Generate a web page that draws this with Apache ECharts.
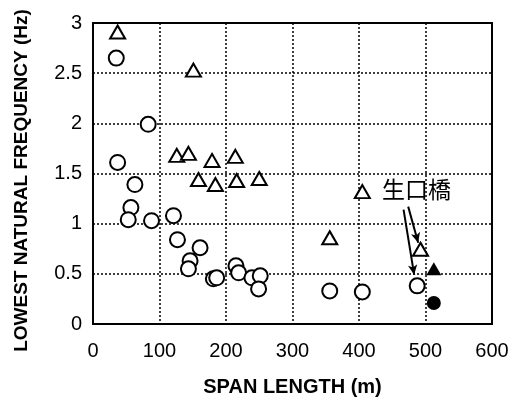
<!DOCTYPE html>
<html lang="en">
  <head>
    <meta charset="UTF-8" />
    <title>Span length vs lowest natural frequency</title>
    <script src="https://cdn.jsdelivr.net/npm/echarts@6/dist/echarts.min.js"></script>
    <style>
      html, body { margin: 0; padding: 0; background: #fff; }
      #box { width: 514px; height: 402px; }
    </style>
  </head>
  <body>
    <div id="box"></div>
    <script>
      // open circles
      var circleSpan = [35, 37, 63, 57, 53, 83, 88, 121, 127, 161, 146, 143.5, 181, 186, 215, 219, 239, 251.5, 249, 356, 405, 487.5];
      var circleFreq = [2.65, 1.61, 1.39, 1.16, 1.04, 1.99, 1.03, 1.08, 0.84, 0.76, 0.63, 0.55, 0.45, 0.46, 0.58, 0.51, 0.46, 0.48, 0.35, 0.33, 0.32, 0.38];
      // open triangles
      var triSpan = [37, 151, 126, 143.5, 179, 214, 158.6, 184, 216, 250, 405, 356, 492.5];
      var triFreq = [2.91, 2.53, 1.68, 1.70, 1.63, 1.67, 1.44, 1.39, 1.43, 1.45, 1.32, 0.86, 0.745];
      // filled marks (生口橋)
      var fillTriSpan = [512.5];
      var fillTriFreq = [0.55];
      var fillCircleSpan = [512.5];
      var fillCircleFreq = [0.21];

      var xTicks = [0, 100, 200, 300, 400, 500, 600];
      var yTicks = [0, 0.5, 1, 1.5, 2, 2.5, 3];

      function pairs(xs, ys) {
        var out = [];
        for (var i = 0; i < xs.length; i++) out.push([xs[i], ys[i]]);
        return out;
      }

      var chart = echarts.init(document.getElementById("box"));
      var font = "'Liberation Sans', Arial, sans-serif";

      chart.setOption({
        animation: false,
        backgroundColor: "#fff",
        grid: {
          left: 93, right: 22, top: 23, bottom: 77,
          show: true, borderColor: "#000", borderWidth: 2
        },
        xAxis: {
          type: "value",
          min: xTicks[0], max: xTicks[xTicks.length - 1], interval: 100,
          name: "SPAN LENGTH (m)",
          nameLocation: "middle", nameGap: 53,
          nameTextStyle: { color: "#000", fontSize: 20, fontFamily: font, fontWeight: "bold" },
          axisLine: { lineStyle: { color: "#000", width: 2 } },
          axisTick: { show: false },
          axisLabel: { color: "#000", fontSize: 20, fontFamily: font, margin: 17 },
          splitLine: { lineStyle: { color: "#000", type: [2, 2], width: 1.5 } }
        },
        yAxis: {
          type: "value",
          min: yTicks[0], max: yTicks[yTicks.length - 1], interval: 0.5,
          name: "LOWEST NATURAL FREQUENCY (Hz)",
          nameLocation: "middle", nameGap: 62,
          nameTextStyle: { color: "#000", fontSize: 19, fontFamily: font, fontWeight: "bold", padding: [0, 14, 0, 0] },
          axisLine: { lineStyle: { color: "#000", width: 2 } },
          axisTick: { show: false },
          axisLabel: { color: "#000", fontSize: 20, fontFamily: font, margin: 11 },
          splitLine: { lineStyle: { color: "#000", type: [2, 2], width: 1.5 } }
        },
        graphic: [
          {
            type: "text", left: 382, top: 178,
            style: { text: "生口橋", fill: "#000", fontSize: 23, fontFamily: "'Noto Sans CJK JP', sans-serif" }
          }
        ],
        series: [
          {
            type: "scatter",
            symbol: "circle", symbolSize: 15,
            itemStyle: { color: "#fff", borderColor: "#000", borderWidth: 2, opacity: 1 },
            data: pairs(circleSpan, circleFreq),
            markLine: {
              silent: true, symbol: ["none", "arrow"], symbolSize: [7, 10],
              lineStyle: { color: "#000", width: 2, type: "solid" },
              label: { show: false },
              data: [
                [{ coord: [467, 1.14] }, { coord: [483, 0.49] }],
                [{ coord: [474, 1.17] }, { coord: [489, 0.81] }]
              ]
            }
          },
          {
            type: "scatter",
            symbol: "triangle", symbolSize: [15, 13],
            itemStyle: { color: "#fff", borderColor: "#000", borderWidth: 2, opacity: 1 },
            data: pairs(triSpan, triFreq)
          },
          {
            type: "scatter",
            symbol: "triangle", symbolSize: [15, 13],
            itemStyle: { color: "#000", opacity: 1 },
            data: pairs(fillTriSpan, fillTriFreq)
          },
          {
            type: "scatter",
            symbol: "circle", symbolSize: 14,
            itemStyle: { color: "#000", opacity: 1 },
            data: pairs(fillCircleSpan, fillCircleFreq)
          }
        ]
      });
    </script>
  </body>
</html>
